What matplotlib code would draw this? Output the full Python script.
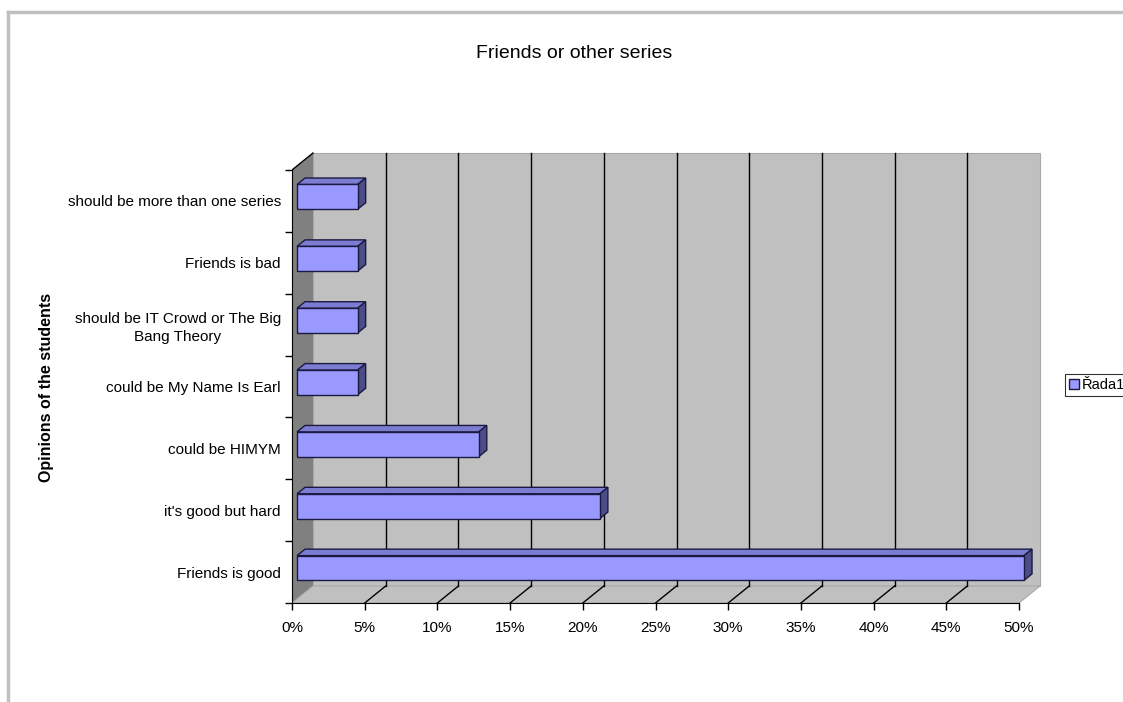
import matplotlib
matplotlib.use("Agg")
import matplotlib.pyplot as plt
from matplotlib.patches import Polygon, Rectangle, Patch
from matplotlib.lines import Line2D
from matplotlib.ticker import FuncFormatter

plt.rcParams['font.family'] = ['Liberation Sans', 'DejaVu Sans']

# data (bottom to top)
categories = ["Friends is good", "it's good but hard", "could be HIMYM",
              "could be My Name Is Earl",
              "should be IT Crowd or The Big\nBang Theory",
              "Friends is bad", "should be more than one series"]
values = [50.0, 20.83, 12.5, 4.17, 4.17, 4.17, 4.17]
x_ticks = [0, 5, 10, 15, 20, 25, 30, 35, 40, 45, 50]
series_name = "Řada1"

W, H = 1123, 702
fig = plt.figure(figsize=(W / 100, H / 100), dpi=100)

# pixel geometry of the plot area
px0, px50 = 292, 1019        # 0% and 50% on the front axis
py_bot, py_top = 603, 170    # front plane bottom / top
sx = (px50 - px0) / 50.0
sy = (py_bot - py_top) / 7.0
ax_l, ax_r, ax_t = px0, 1050, 148
ax = fig.add_axes([ax_l / W, 1 - py_bot / H, (ax_r - ax_l) / W, (py_bot - ax_t) / H])
ax.set_xlim(0, (ax_r - px0) / sx)
ax.set_ylim(-0.5, -0.5 + (py_bot - ax_t) / sy)
ax.patch.set_visible(False)

# depth of the 3D box in data units
DX = 21 / sx
DY = 17 / sy
ylo, yhi = -0.5, 6.5

# walls
ax.add_patch(Rectangle((DX, ylo + DY), 50, yhi - ylo, facecolor='#C0C0C0',
                       edgecolor='#A8A8A8', lw=0.8, zorder=0))
ax.add_patch(Polygon([(0, ylo), (DX, ylo + DY), (DX, yhi + DY), (0, yhi)],
                     facecolor='#808080', edgecolor='none', zorder=1))
ax.add_patch(Polygon([(0, ylo), (50, ylo), (50 + DX, ylo + DY), (DX, ylo + DY)],
                     facecolor='#C0C0C0', edgecolor='#A8A8A8', lw=0.8, zorder=1))
ax.plot([0, DX], [yhi, yhi + DY], color='black', lw=1, zorder=2)

# gridlines on back wall and floor
for t in x_ticks[1:-1]:
    ax.plot([t + DX, t + DX], [ylo + DY, yhi + DY], color='black', lw=1, zorder=2)
    ax.plot([t, t + DX], [ylo, ylo + DY], color='black', lw=1, zorder=2)

# 3D bars
f0, bd = 0.24, 0.38
bh = 0.4
x0 = f0 * DX
bdx, bdy = bd * DX, bd * DY
ypos = [i + f0 * DY for i in range(len(values))]
ax.barh(ypos, values, left=x0, height=bh, color='#9999FF',
        edgecolor='#1A1A40', lw=1, zorder=4)
for y, v in zip(ypos, values):
    yb, yt = y - bh / 2, y + bh / 2
    ax.add_patch(Polygon([(x0, yt), (x0 + v, yt), (x0 + v + bdx, yt + bdy), (x0 + bdx, yt + bdy)],
                         facecolor='#7C7CD2', edgecolor='#1A1A40', lw=1, zorder=3))
    ax.add_patch(Polygon([(x0 + v, yb), (x0 + v, yt), (x0 + v + bdx, yt + bdy), (x0 + v + bdx, yb + bdy)],
                         facecolor='#4C4C88', edgecolor='#1A1A40', lw=1, zorder=3))

# axes
for s in ['top', 'right']:
    ax.spines[s].set_visible(False)
ax.spines['bottom'].set_bounds(0, 50)
ax.spines['left'].set_bounds(ylo, yhi)
ax.spines['bottom'].set_zorder(5)
ax.set_xticks(x_ticks)
ax.xaxis.set_major_formatter(FuncFormatter(lambda v, p: f"{int(v)}%"))
ax.set_yticks([i - 0.5 for i in range(len(categories) + 1)])
ax.set_yticklabels([])
ax.set_yticks(range(len(categories)), minor=True)
ax.set_yticklabels(categories, minor=True, ha='right', multialignment='center',
                   linespacing=1.35)
ax.tick_params(axis='y', which='minor', length=0, pad=8, labelsize=11)
ax.tick_params(axis='both', which='major', length=5, width=1, color='black', labelsize=11)
ax.tick_params(axis='x', pad=8)

fig.text(574 / W, 1 - 53 / H, "Friends or other series", ha='center', va='center', fontsize=14)
fig.text(47 / W, 1 - 387 / H, "Opinions of the students", rotation=90, ha='center',
         va='center', fontsize=11.5, fontweight='bold')

leg = fig.legend(handles=[Patch(facecolor='#9999FF', edgecolor='#1A1A40', label=series_name)],
                 loc='center left', bbox_to_anchor=(1065 / W, 1 - 385 / H),
                 fancybox=False, edgecolor='black', fontsize=10.5, handlelength=0.7,
                 handleheight=0.7, handletextpad=0.2, borderpad=0.25, borderaxespad=0)
leg.get_frame().set_linewidth(0.8)

# outer chart border
fig.add_artist(Line2D([8 / W, 1], [1 - 12 / H, 1 - 12 / H], color='#C0C0C0', lw=2.5))
fig.add_artist(Line2D([8 / W, 8 / W], [0, 1 - 12 / H], color='#C0C0C0', lw=2.5))

fig.savefig("out.png", dpi=100)
